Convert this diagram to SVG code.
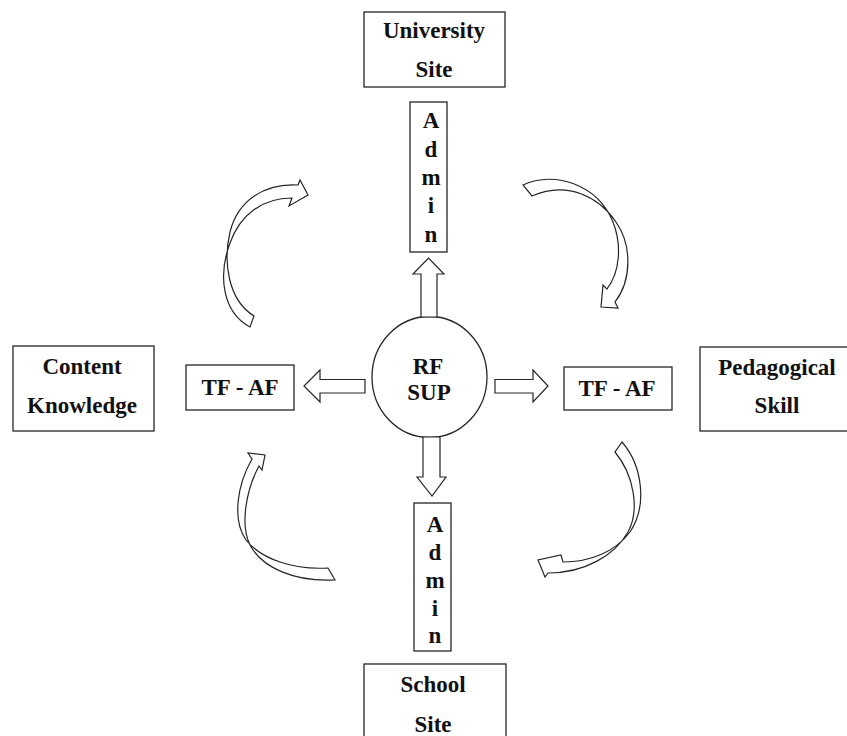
<svg xmlns="http://www.w3.org/2000/svg" width="847" height="736" viewBox="0 0 847 736">
<style>
.box{fill:#fff;stroke:#262626;stroke-width:1.3}
.t{font-family:'Liberation Serif','Times New Roman','DejaVu Serif',serif;font-weight:bold;font-size:23px;fill:#111;text-anchor:middle}
.arr{fill:#fff;stroke:#262626;stroke-width:1.2;stroke-linejoin:miter}
</style>
<rect width="847" height="736" fill="#fff"/>
<g id="university-site">
<rect class="box" x="364" y="12" width="141" height="75"/>
<text class="t" x="434" y="38" font-family="Liberation Serif">University</text>
<text class="t" x="434" y="77" font-family="Liberation Serif">Site</text>
</g>
<g id="admin-top">
<rect class="box" x="410" y="102" width="37" height="150"/>
<text class="t" x="431" y="128">A</text>
<text class="t" x="431" y="157">d</text>
<text class="t" x="431" y="185">m</text>
<text class="t" x="431" y="213">i</text>
<text class="t" x="431" y="242">n</text>
</g>
<g id="rf-sup">
<ellipse class="box" cx="429.5" cy="377" rx="57.5" ry="60.5"/>
<text class="t" x="428" y="374">RF</text>
<text class="t" x="429" y="400">SUP</text>
</g>
<g id="tfaf-left">
<rect class="box" x="186" y="365" width="108" height="45"/>
<text class="t" x="240" y="395">TF - AF</text>
</g>
<g id="tfaf-right">
<rect class="box" x="564" y="367" width="108" height="43"/>
<text class="t" x="617" y="396">TF - AF</text>
</g>
<g id="content-knowledge">
<rect class="box" x="13" y="346" width="141" height="85"/>
<text class="t" x="82" y="374">Content</text>
<text class="t" x="82" y="413">Knowledge</text>
</g>
<g id="pedagogical-skill">
<rect class="box" x="700" y="347" width="160" height="84"/>
<text class="t" x="777" y="375">Pedagogical</text>
<text class="t" x="777" y="413">Skill</text>
</g>
<g id="admin-bottom">
<rect class="box" x="414" y="503" width="37" height="148"/>
<text class="t" x="435" y="532">A</text>
<text class="t" x="435" y="560">d</text>
<text class="t" x="435" y="588">m</text>
<text class="t" x="435" y="616">i</text>
<text class="t" x="435" y="643">n</text>
</g>
<g id="school-site">
<rect class="box" x="364" y="664" width="142" height="90"/>
<text class="t" x="433" y="692">School</text>
<text class="t" x="433" y="732">Site</text>
</g>
<g id="connectors">
<polygon class="arr" points="421,317 421,274 413,274 428.5,258 444,274 437,274 437,317"/>
<polygon class="arr" points="423,437 440,437 440,477 446,477 432,496 417,477 423,477"/>
<polygon class="arr" points="495,379.5 533,379.5 533,370 548,386 533,402 533,393 495,393"/>
<polygon class="arr" points="365,379.5 320,379.5 320,370 304,386 320,402 320,393 365,393"/>
<path class="arr" d="M254,316 C228,300 223,262 230,232 C238,200 265,183 298,185 L300,180 L308,195 L289,206 L292,198 C262,198 240,215 230,243 C218,275 222,312 250,327 Z"/>
<path class="arr" d="M523,185 C555,170 598,185 613,222 C622,245 620,272 607,289 L603,285 L601,307 L618,308 L615,302 C632,280 632,245 616,222 C600,198 568,180 532,196 Z"/>
<path class="arr" d="M252,459 C237,485 232,520 246,540 C262,560 295,570 328,568 L335,580 C295,582 262,568 250,545 C240,525 246,490 259,466 L262,470 L265,455 L248,453 Z"/>
<path class="arr" d="M622,442 C642,465 648,505 630,532 C615,552 590,562 563,562 L561,555 L538,560 L545,577 L548,573 C585,573 615,555 628,532 C640,510 634,475 615,452 Z"/>
</g>
</svg>
